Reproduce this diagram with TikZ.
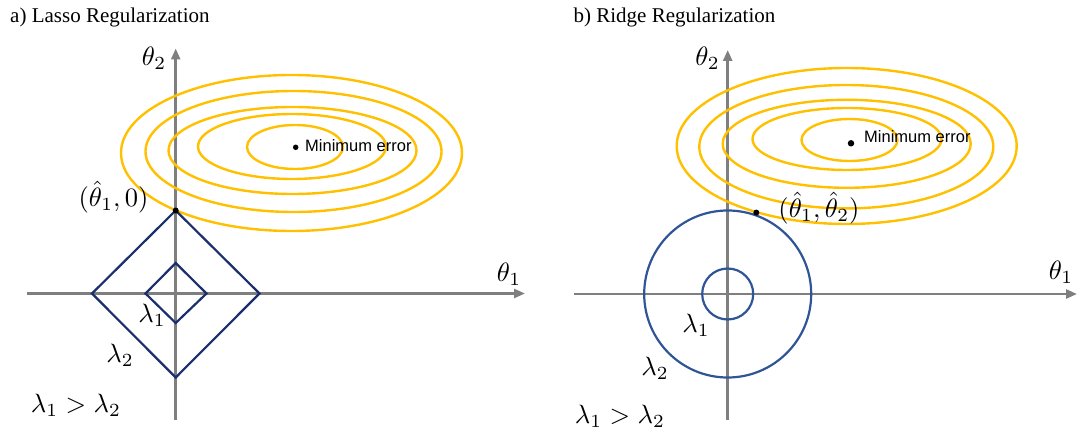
\documentclass[tikz,border=0pt]{standalone}
\usepackage{graphicx}
\usepackage{fontspec}
\setmainfont{Liberation Serif}
\newfontfamily\arialfont{Liberation Sans}
\usetikzlibrary{arrows.meta}
\definecolor{gold}{HTML}{FFC000}
\definecolor{navy}{HTML}{1A2F6B}
\definecolor{ridgeblue}{HTML}{2F5597}
\definecolor{axisgray}{HTML}{7F7F7F}
\newcommand{\mylbl}[1]{\scalebox{2.65}{$#1$}}
\tikzset{
  axis/.style={draw=axisgray, line width=2.5pt, -{Triangle[length=11pt,width=9pt]}},
  contour/.style={draw=gold, line width=2.4pt},
  lassobox/.style={draw=navy, line width=2.2pt, line join=miter},
  ridgering/.style={draw=ridgeblue, line width=2.2pt},
  dotmark/.style={fill=black, circle, inner sep=0pt, minimum size=6pt},
  title/.style={font=\fontsize{21}{24}\selectfont, inner sep=0pt},
  mathlbl/.style={inner sep=0pt},
  minlbl/.style={font=\arialfont\fontsize{16.5}{19}\selectfont, inner sep=0pt, anchor=west},
}
\begin{document}
\begin{tikzpicture}[x=1pt, y=-1pt]
\useasboundingbox (0,0) rectangle (1081,435);

% ---------- a) Lasso ----------
\node[title, anchor=base west] (ta) at (10,23) {a) Lasso Regularization};
\coordinate (axL) at (27,293.5);
\coordinate (axR) at (525,293.5);
\coordinate (ayB) at (175.7,419.5);
\coordinate (ayT) at (175.7,48.5);
\draw[axis] (axL) -- (axR);
\draw[axis] (ayB) -- (ayT);
\node[mathlbl] (t2a) at (154,58) {\mylbl{\theta_2}};
\node[mathlbl] (t1a) at (509,274) {\mylbl{\theta_1}};

\draw[contour] (291.5,153) ellipse [x radius=170.5pt, y radius=78pt];
\draw[contour] (293.5,151.5) ellipse [x radius=148pt, y radius=60.5pt];
\draw[contour] (292.5,150.5) ellipse [x radius=124pt, y radius=43.5pt];
\draw[contour] (292,146.5) ellipse [x radius=94pt, y radius=32.5pt];
\draw[contour] (295,147) ellipse [x radius=48pt, y radius=22pt];
\node[dotmark, minimum size=5.5pt] (mina) at (295.7,147.3) {};
\node[minlbl] (mla) at (305,146) {Minimum error};

\draw[lassobox] (175.7,210.5) -- (259.5,293.5) -- (175.7,377.5) -- (92,293.5) -- cycle;
\draw[lassobox] (175.7,263) -- (206.5,293.5) -- (175.7,323) -- (145.5,293.5) -- cycle;
\node[dotmark] (pa) at (175.7,210.5) {};
\node[mathlbl] (pla) at (113.5,197) {\mylbl{(\hat{\theta}_1,0)}};
\node[mathlbl] (l1a) at (152,315) {\mylbl{\lambda_1}};
\node[mathlbl] (l2a) at (120,355) {\mylbl{\lambda_2}};
\node[mathlbl] (cmpa) at (76,405) {\mylbl{\lambda_1>\lambda_2}};

% ---------- b) Ridge ----------
\node[title, anchor=base west] (tb) at (573.4,23) {b) Ridge Regularization};
\coordinate (bxL) at (574,294);
\coordinate (bxR) at (1077,294);
\coordinate (byB) at (727.7,419.5);
\coordinate (byT) at (727.7,50);
\draw[axis] (bxL) -- (bxR);
\draw[axis] (byB) -- (byT);
\node[mathlbl] (t2b) at (707.5,58) {\mylbl{\theta_2}};
\node[mathlbl] (t1b) at (1061,272) {\mylbl{\theta_1}};

\draw[contour] (846.7,146) ellipse [x radius=170pt, y radius=78pt];
\draw[contour] (846.3,146.7) ellipse [x radius=147pt, y radius=61.7pt];
\draw[contour] (846.7,143.8) ellipse [x radius=124pt, y radius=44pt];
\draw[contour] (847,139) ellipse [x radius=94.5pt, y radius=31pt];
\draw[contour] (849.5,140) ellipse [x radius=48pt, y radius=21pt];
\node[dotmark, minimum size=6.5pt] (minb) at (851,143.3) {};
\node[minlbl] (mlb) at (864,137) {Minimum error};

\draw[ridgering] (727.7,294) circle [radius=83.5pt];
\draw[ridgering] (727.7,294) circle [radius=25.5pt];
\node[dotmark] (pb) at (756.3,212.6) {};
\node[mathlbl] (plb) at (819,208) {\mylbl{(\hat{\theta}_1,\hat{\theta}_2)}};
\node[mathlbl] (l1b) at (696,325) {\mylbl{\lambda_1}};
\node[mathlbl] (l2b) at (655,368) {\mylbl{\lambda_2}};
\node[mathlbl] (cmpb) at (620,416) {\mylbl{\lambda_1>\lambda_2}};
\end{tikzpicture}
\end{document}
